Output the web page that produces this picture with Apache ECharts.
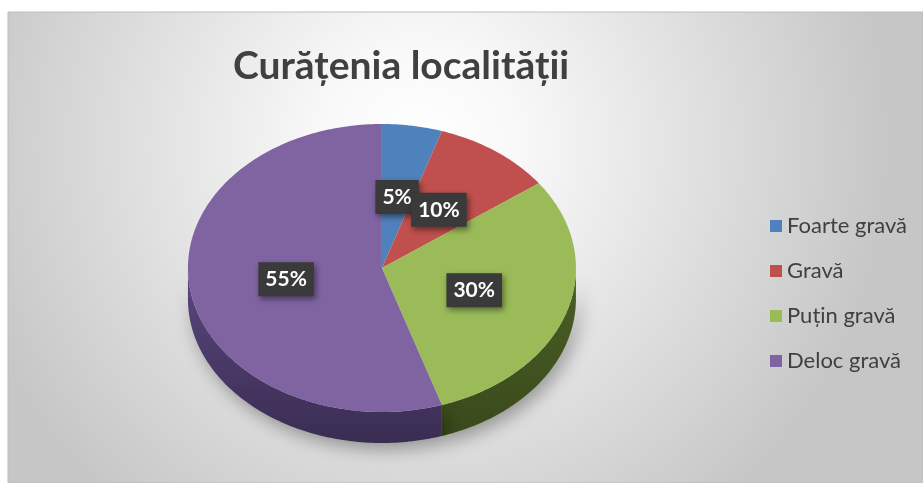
<!DOCTYPE html>
<html>
<head>
<meta charset="utf-8">
<script src="https://cdn.jsdelivr.net/npm/echarts@6/dist/echarts.min.js"></script>
<style>
html,body{margin:0;padding:0;background:#ffffff;}
#chart{width:923px;height:483px;}
</style>
</head>
<body>
<div id="chart"></div>
<script>
// ---- data ----
const titleText = 'Curățenia localității';
const categories = ['Foarte gravă', 'Gravă', 'Puțin gravă', 'Deloc gravă'];
const values = [5, 10, 30, 55];
const colors = ['#4f81bd', '#c0504d', '#9bbb59', '#8064a2'];
const sideTop = ['#34577f', '#7d2f2d', '#4b5f26', '#5a4780'];
const sideBottom = ['#24405f', '#5a201f', '#394a1b', '#3a2d52'];

const chart = echarts.init(document.getElementById('chart'), null, {renderer: 'canvas'});
const total = values.reduce((a, b) => a + b, 0);

function pt(cx, cy, rx, ry, deg, f, dy) {
  const t = deg * Math.PI / 180;
  return [cx + f * rx * Math.sin(t), cy - f * ry * Math.cos(t) + (dy || 0)];
}

function makeRender(i) {
  return function (params, api) {
    const W = api.getWidth();
    const cx = W * 0.4138, cy = 268, rx = 194, ry = 144, depth = 31;
    let start = 0;
    for (let k = 0; k < i; k++) start += values[k];
    const a0 = start / total * 360;
    const a1 = (start + api.value(0)) / total * 360;
    const children = [];
    // side wall (front half only)
    const s = Math.max(a0, 90), e = Math.min(a1, 270);
    if (e > s) {
      const pts = [];
      const n = Math.max(2, Math.ceil(e - s));
      for (let j = 0; j <= n; j++) pts.push(pt(cx, cy, rx, ry, s + (e - s) * j / n, 1, 0));
      for (let j = n; j >= 0; j--) pts.push(pt(cx, cy, rx, ry, s + (e - s) * j / n, 1, depth));
      children.push({
        type: 'polygon', z2: 1,
        shape: {points: pts},
        style: {
          fill: new echarts.graphic.LinearGradient(0, 0, 0, 1, [
            {offset: 0, color: sideTop[i]},
            {offset: 1, color: sideBottom[i]}
          ]),
          shadowBlur: 18, shadowColor: 'rgba(0,0,0,0.35)', shadowOffsetX: 4, shadowOffsetY: 6
        }
      });
    }
    // top face
    const top = [[cx, cy]];
    const n2 = Math.max(2, Math.ceil(a1 - a0));
    for (let j = 0; j <= n2; j++) top.push(pt(cx, cy, rx, ry, a0 + (a1 - a0) * j / n2, 1, 0));
    children.push({
      type: 'polygon', z2: 5,
      shape: {points: top},
      style: {fill: api.visual('color')}
    });
    // label
    const lp = pt(cx, cy, rx, ry, (a0 + a1) / 2, 0.5, 0);
    children.push({
      type: 'text', z2: 20 + i,
      style: {
        text: Math.round(api.value(0) / total * 100) + '%',
        x: lp[0], y: lp[1],
        align: 'center', verticalAlign: 'middle',
        fill: '#ffffff',
        font: 'bold 21px Lato',
        backgroundColor: '#3a3a3a',
        padding: [7, 7, 6, 7],
        shadowBlur: 6, shadowColor: 'rgba(0,0,0,0.45)', shadowOffsetX: 2, shadowOffsetY: 3
      }
    });
    return {type: 'group', children: children};
  };
}

const series = categories.map((name, i) => ({
  type: 'custom',
  name: name,
  coordinateSystem: 'none',
  renderItem: makeRender(i),
  data: [[values[i]]],
  animation: false
}));

const option = {
  color: colors,
  animation: false,
  graphic: [{
    type: 'rect', z: -10, silent: true,
    shape: {x: 8, y: 12, width: 915, height: 471},
    style: {
      fill: new echarts.graphic.RadialGradient(0.45, 0.28, 1.0, [
        {offset: 0, color: '#ffffff'},
        {offset: 0.2, color: '#f9f9f9'},
        {offset: 1, color: '#c6c6c6'}
      ]),
      stroke: '#bdbdbd', lineWidth: 1
    }
  }],
  title: {
    text: titleText,
    left: 228, top: 42,
    textStyle: {fontFamily: 'Lato', fontWeight: 'bold', fontSize: 39, color: '#404040'}
  },
  legend: {
    data: categories,
    orient: 'vertical',
    left: 765, top: 210,
    itemWidth: 12, itemHeight: 12, itemGap: 23,
    icon: 'rect',
    textStyle: {fontFamily: 'Lato', fontSize: 22, color: '#404040'}
  },
  series: series
};
chart.setOption(option);
</script>
</body>
</html>
